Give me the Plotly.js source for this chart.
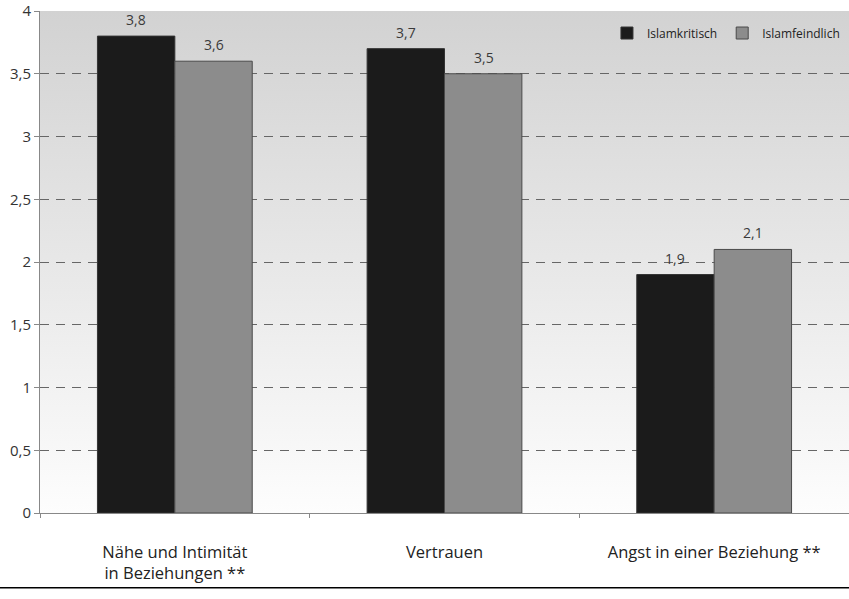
<!DOCTYPE html>
<html>
<head>
<meta charset="utf-8">
<script src="https://cdn.plot.ly/plotly-3.0.1.min.js"></script>
<style>
html,body{margin:0;padding:0;background:#fff;}
#chart{width:849px;height:599px;}
</style>
</head>
<body>
<div id="chart"></div>
<script>
const categories = ["Nähe und Intimität<br>in Beziehungen **", "Vertrauen", "Angst in einer Beziehung **"];
const seriesNames = ["Islamkritisch", "Islamfeindlich"];
const islamkritisch = [3.8, 3.7, 1.9];
const islamfeindlich = [3.6, 3.5, 2.1];
const yTicks = [0, 0.5, 1, 1.5, 2, 2.5, 3, 3.5, 4];
const yTickLabels = ["0", "0,5", "1", "1,5", "2", "2,5", "3", "3,5", "4"];

const FONT = "Open Sans, sans-serif";
const fmt = v => String(v).replace(".", ",");

const traces = [
  {type: "bar", name: seriesNames[0], x: categories, y: islamkritisch,
   marker: {color: "#1b1b1b", line: {color: "#333", width: 1}}},
  {type: "bar", name: seriesNames[1], x: categories, y: islamfeindlich,
   marker: {color: "#8c8c8c", line: {color: "#4a4a4a", width: 1}}}
];

const annotations = [];
[islamkritisch, islamfeindlich].forEach((vals, s) => {
  vals.forEach((v, i) => {
    annotations.push({x: categories[i], y: v, xref: "x", yref: "y",
      text: fmt(v), showarrow: false, yanchor: "bottom",
      xshift: s === 0 ? -39 : 39, yshift: 5,
      font: {family: FONT, size: 14, color: "#3a3a3a"}});
  });
});

const bgSvg = "<svg xmlns='http://www.w3.org/2000/svg' width='10' height='100' preserveAspectRatio='none'><defs><linearGradient id='g' x1='0' y1='0' x2='0' y2='1'><stop offset='0' stop-color='#d2d2d2'/><stop offset='1' stop-color='#fdfdfd'/></linearGradient></defs><rect width='10' height='100' fill='url(#g)'/></svg>";

const layout = {
  width: 849, height: 599,
  margin: {l: 40, r: 0, t: 11, b: 86},
  paper_bgcolor: "#ffffff",
  plot_bgcolor: "rgba(0,0,0,0)",
  font: {family: FONT, size: 15, color: "#222"},
  barmode: "group",
  bargap: 0.426,
  bargroupgap: 0,
  showlegend: true,
  legend: {orientation: "h", x: 0.995, xanchor: "right", y: 0.985, yanchor: "top",
    bgcolor: "rgba(0,0,0,0)", font: {family: FONT, size: 12, color: "#222"},
    traceorder: "normal"},
  xaxis: {type: "category", showgrid: false, showline: true, linecolor: "#888", linewidth: 1,
    ticks: "outside", tickson: "boundaries", ticklen: 4, tickcolor: "#888",
    tickfont: {family: FONT, size: 16.5, color: "#222"}, ticklabelstandoff: 24,
    zeroline: false},
  yaxis: {range: [0, 4], tickvals: yTicks, ticktext: yTickLabels,
    showline: true, linecolor: "#888", linewidth: 1, ticks: "outside", ticklen: 5, tickcolor: "#888",
    showgrid: true, gridcolor: "#666", gridwidth: 1, griddash: "9px,7px",
    zeroline: false, tickfont: {family: FONT, size: 15, color: "#333"}},
  annotations: annotations,
  images: [{source: "data:image/svg+xml;utf8," + encodeURIComponent(bgSvg),
    xref: "paper", yref: "paper", x: 0, y: 1, sizex: 1, sizey: 1,
    sizing: "stretch", layer: "below", xanchor: "left", yanchor: "top"}],
  shapes: [{type: "line", xref: "paper", yref: "paper", x0: -0.06, x1: 1.01, y0: -0.149, y1: -0.149,
    line: {color: "#000", width: 1.5}}]
};

Plotly.newPlot("chart", traces, layout, {displayModeBar: false, staticPlot: true});
</script>
</body>
</html>
